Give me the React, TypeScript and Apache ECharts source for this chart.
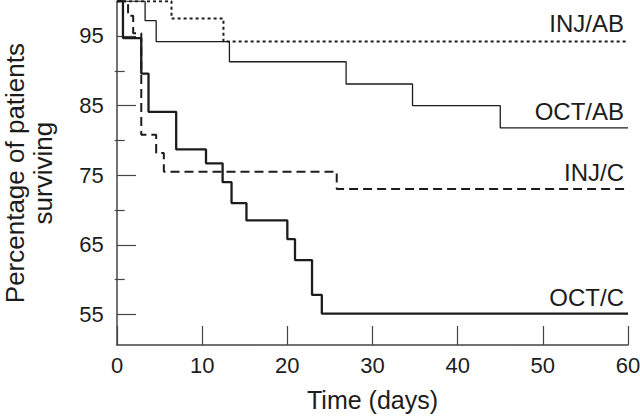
import React, { useEffect, useRef } from "react";
import * as echarts from "echarts";

const groupNames = ["INJ/AB", "OCT/AB", "INJ/C", "OCT/C"];

// Kaplan–Meier steps: [day, % surviving after the event]
const injAB: number[][] = [[0, 100], [6.4, 97.5], [12.5, 94.2], [60, 94.2]];
const octAB: number[][] = [[0, 100], [3.3, 97.2], [4.6, 94.2], [13.2, 91.3], [26.9, 88.1], [34.7, 85.0], [45.0, 81.8], [60, 81.8]];
const injC: number[][] = [[0, 100], [1.3, 97.9], [1.9, 95.4], [2.85, 80.8], [4.6, 78.2], [5.5, 75.5], [25.8, 73.0], [60, 73.0]];
const octC: number[][] = [[0, 100], [0.7, 94.7], [2.85, 89.6], [3.7, 84.1], [6.95, 78.7], [10.45, 76.7], [12.4, 74.0], [13.45, 71.0], [15.2, 68.5], [20.0, 65.8], [20.9, 62.8], [22.9, 57.8], [24.05, 55.1], [60, 55.1]];

const xTicks = [0, 10, 20, 30, 40, 50, 60];
const yMajorTicks = [55, 65, 75, 85, 95];
const yMinorTicks = [60, 70, 80, 90];

const FONT = "'Liberation Sans', Arial, Helvetica, sans-serif";
const INK = "#1c1c1c";

export default function App() {
  const ref = useRef<HTMLDivElement>(null);
  useEffect(() => {
    if (!ref.current) return;
    const chart = echarts.init(ref.current, undefined, { renderer: "svg" });
    const seriesData = [injAB, octAB, injC, octC];
    const styles = [
      { width: 2, type: [3, 3] as any },
      { width: 1.3, type: "solid" as any },
      { width: 2, type: [9, 5] as any },
      { width: 2.3, type: "solid" as any },
    ];
    chart.setOption({
      animation: false,
      backgroundColor: "#ffffff",
      textStyle: { fontFamily: FONT },
      grid: { left: 117, right: 12, top: 1.2, bottom: 71, containLabel: false, outerBoundsMode: "none" },
      xAxis: {
        type: "value",
        min: xTicks[0],
        max: xTicks[xTicks.length - 1],
        interval: 10,
        name: "Time (days)",
        nameLocation: "middle",
        nameGap: 42,
        nameTextStyle: { fontSize: 25, color: INK, fontFamily: FONT },
        axisLine: { show: true, lineStyle: { color: "#444", width: 1.5 } },
        axisTick: { show: true, inside: true, length: 19, lineStyle: { color: "#444", width: 1.2 } },
        axisLabel: { fontSize: 22, color: INK, margin: 9, fontFamily: FONT },
        splitLine: { show: false },
      },
      yAxis: [
        {
          type: "value",
          min: 50.6,
          max: 100,
          position: "left",
          offset: 2.3,
          name: "Percentage of patients\nsurviving",
          nameLocation: "middle",
          nameRotate: 90,
          nameGap: 58,
          nameTextStyle: { fontSize: 26, lineHeight: 28, color: INK, fontFamily: FONT, align: "center" },
          axisLine: { show: true, lineStyle: { color: "#444", width: 1.5 } },
          axisTick: { show: true, inside: true, length: 19, customValues: yMajorTicks, lineStyle: { color: "#444", width: 1.2 } },
          axisLabel: { fontSize: 22, color: INK, margin: 11, customValues: yMajorTicks, fontFamily: FONT },
          splitLine: { show: false },
        },
        {
          type: "value",
          min: 50.6,
          max: 100,
          position: "left",
          offset: 2.3,
          axisLine: { show: false },
          axisTick: { show: true, inside: true, length: 10, customValues: yMinorTicks, lineStyle: { color: "#444", width: 1.2 } },
          axisLabel: { show: false },
          splitLine: { show: false },
        },
      ],
      series: seriesData.map((d, i) => ({
        name: groupNames[i],
        type: "line",
        step: "end",
        data: d,
        symbol: "none",
        yAxisIndex: 0,
        lineStyle: { color: INK, width: styles[i].width, type: styles[i].type },
        z: 3 + i,
      })),
    });
    const dys = [-18, -16, -17, -16];
    const graphics = seriesData.map((d, i) => {
      const last = d[d.length - 1];
      const p = chart.convertToPixel({ gridIndex: 0 }, last) as number[];
      return {
        type: "text",
        x: p[0] - 4,
        y: p[1] + dys[i],
        style: {
          text: groupNames[i],
          fontSize: 24,
          fontFamily: FONT,
          fill: INK,
          align: "right",
          verticalAlign: "middle",
        },
      };
    });
    chart.setOption({ graphic: graphics });
    return () => chart.dispose();
  }, []);
  return <div ref={ref} style={{ width: 640, height: 416, position: "absolute", left: 0, top: 0 }} />;
}
